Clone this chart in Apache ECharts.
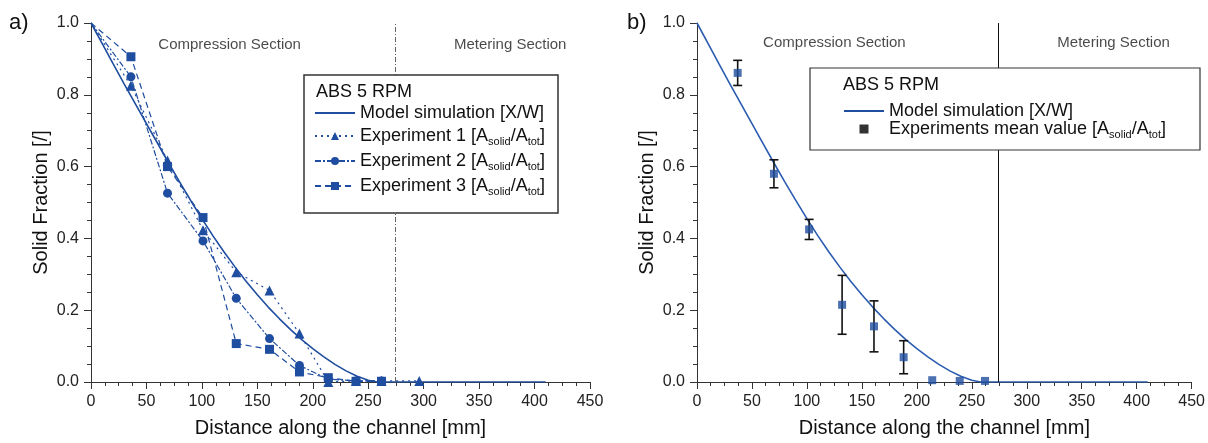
<!DOCTYPE html>
<html>
<head>
<meta charset="utf-8">
<script src="https://cdn.jsdelivr.net/npm/echarts@6/dist/echarts.min.js"></script>
<style>
  html, body { margin: 0; padding: 0; background: #fff; }
  #chart { width: 1208px; height: 443px; }
</style>
</head>
<body>
<div id="chart"></div>
<script>
// Model simulation X/W along the channel (mm -> solid fraction)
const modelX = [0, 10, 20, 30, 40, 50, 60, 70, 80, 90, 100, 110, 120, 130, 140, 150, 160, 170, 180, 190, 200, 210, 220, 230, 240, 250, 258, 300, 350, 410];
const modelY = [1.0, 0.943, 0.886, 0.83, 0.775, 0.72, 0.665, 0.61, 0.557, 0.505, 0.455, 0.407, 0.362, 0.32, 0.28, 0.243, 0.208, 0.176, 0.146, 0.118, 0.093, 0.07, 0.049, 0.031, 0.016, 0.005, 0, 0, 0, 0];

// Panel a: individual experiments, A_solid / A_tot
const exp1X = [0, 36, 69, 101, 131, 161, 188, 214, 239, 262, 296];
const exp1Y = [1.0, 0.825, 0.617, 0.423, 0.306, 0.255, 0.135, 0.0, 0.003, 0.003, 0.003];
const exp2X = [0, 36, 69, 101, 131, 161, 188, 214, 239, 262];
const exp2Y = [1.0, 0.85, 0.526, 0.393, 0.233, 0.121, 0.046, 0.008, 0.003, 0.003];
const exp3X = [0, 36, 69, 101, 131, 161, 188, 214, 239, 262];
const exp3Y = [1.0, 0.906, 0.6, 0.458, 0.107, 0.091, 0.028, 0.012, 0.002, 0.002];

// Panel b: mean of the experiments with standard deviation
const meanX = [37, 70, 102, 132, 161, 188, 214, 239, 262];
const meanY = [0.861, 0.58, 0.425, 0.215, 0.155, 0.069, 0.005, 0.003, 0.003];
const meanSD = [0.035, 0.039, 0.028, 0.082, 0.071, 0.046, 0, 0, 0];

// End of the compression section / start of the metering section
const sectionX = 274;
const sectionNames = ['Compression Section', 'Metering Section'];

const xTicks = { min: 0, max: 450, interval: 50 };
const yTicks = { min: 0, max: 1, interval: 0.2 };

const NAME_MODEL = 'Model simulation [X/W]';
const NAME_E1 = 'Experiment 1';
const NAME_E2 = 'Experiment 2';
const NAME_E3 = 'Experiment 3';
const NAME_MEAN = 'Experiments mean value';

const BLUE = '#1f4d9f';
const FONT = '"Liberation Sans", Arial, sans-serif';

const pairs = (xs, ys) => xs.map((x, i) => [x, ys[i]]);
// the shared inlet point (0, 1) is drawn as the line start only, without a marker
const expData = (xs, ys) => pairs(xs, ys).map((p, i) => i === 0 ? { value: p, symbol: 'none' } : p);

function xAxisFor(gridIndex) {
  return {
    type: 'value', gridIndex,
    min: xTicks.min, max: xTicks.max, interval: xTicks.interval,
    name: 'Distance along the channel [mm]',
    nameLocation: 'middle', nameGap: 36,
    nameTextStyle: { fontFamily: FONT, fontSize: 20, color: '#111' },
    axisLine: { show: true, lineStyle: { color: '#333', width: 1 } },
    axisTick: { show: true, inside: false, length: 7, lineStyle: { color: '#333' } },
    minorTick: { show: true, splitNumber: 4, length: 4, lineStyle: { color: '#333' } },
    axisLabel: { fontFamily: FONT, fontSize: 16, color: '#222', margin: 12, showMaxLabel: true, showMinLabel: true },
    splitLine: { show: false }
  };
}
function yAxisFor(gridIndex) {
  return {
    type: 'value', gridIndex,
    min: yTicks.min, max: yTicks.max, interval: yTicks.interval,
    name: 'Solid Fraction [/]',
    nameLocation: 'middle', nameGap: 40,
    nameTextStyle: { fontFamily: FONT, fontSize: 20, color: '#111' },
    axisLine: { show: true, lineStyle: { color: '#333', width: 1 } },
    axisTick: { show: true, inside: false, length: 7, lineStyle: { color: '#333' } },
    minorTick: { show: true, splitNumber: 4, length: 4, lineStyle: { color: '#333' } },
    axisLabel: { fontFamily: FONT, fontSize: 16, color: '#222', margin: 12, formatter: v => v.toFixed(1) },
    splitLine: { show: false }
  };
}

// Section captions placed in data space
function sectionLabels(xAxisIndex, yAxisIndex, xs, y) {
  return {
    type: 'scatter', xAxisIndex, yAxisIndex, silent: true,
    symbolSize: 0, z: 1,
    data: sectionNames.map((n, i) => [xs[i], y, n]),
    label: {
      show: true, position: 'inside',
      formatter: p => p.value[2],
      fontFamily: FONT, fontSize: 15, color: '#1a1a1a'
    }
  };
}

const richLegend = {
  t: { fontFamily: FONT, fontSize: 18, color: '#111', lineHeight: 22 },
  s: { fontFamily: FONT, fontSize: 11, color: '#111', verticalAlign: 'bottom', padding: [0, 0, 0, 0] }
};
const legendFormatter = name => name === NAME_MODEL
  ? '{t|' + name + '}'
  : '{t|' + name + ' [A}{s|solid}{t|/A}{s|tot}{t|]}';

// model entry: plain line without a marker
const modelLegendItem = { name: NAME_MODEL, itemStyle: { opacity: 0 } };
// mean-value entry: small black square only
const meanLegendItem = { name: NAME_MEAN, icon: 'path://M0,0H10V10H0Z', itemStyle: { color: '#000' } };

const option = {
  animation: false,
  backgroundColor: '#fff',
  grid: [
    { left: 91, top: 23, width: 499, height: 365 },
    { left: 697, top: 23, width: 496, height: 365 }
  ],
  xAxis: [xAxisFor(0), xAxisFor(1)],
  yAxis: [yAxisFor(0), yAxisFor(1)],
  legend: [
    {
      left: 314, top: 104, orient: 'vertical', padding: 0, itemGap: 5, z: 20,
      itemWidth: 40, itemHeight: 10,
      data: [modelLegendItem, NAME_E1, NAME_E2, NAME_E3],
      formatter: legendFormatter,
      textStyle: { rich: richLegend }
    },
    {
      left: 843, top: 102, orient: 'vertical', padding: 0, itemGap: 0, z: 20,
      itemWidth: 40, itemHeight: 9,
      data: [modelLegendItem, meanLegendItem],
      formatter: legendFormatter,
      textStyle: { rich: richLegend }
    }
  ],
  graphic: [
    { type: 'text', left: 9, top: 12, style: { text: 'a)', font: '22px ' + FONT, fill: '#111' } },
    { type: 'text', left: 627, top: 12, style: { text: 'b)', font: '22px ' + FONT, fill: '#111' } },
    { type: 'rect', shape: { x: 304, y: 75, width: 254, height: 138 }, style: { fill: '#fff', stroke: '#333', lineWidth: 1.5 }, z: 10 },
    { type: 'text', x: 316, y: 83, style: { text: 'ABS 5 RPM', font: '18px ' + FONT, fill: '#111' }, z: 11 },
    { type: 'rect', shape: { x: 810, y: 68, width: 390, height: 82 }, style: { fill: '#fff', stroke: '#333', lineWidth: 1.2 }, z: 10 },
    { type: 'text', x: 843, y: 76, style: { text: 'ABS 5 RPM', font: '18px ' + FONT, fill: '#111' }, z: 11 }
  ],
  series: [
    // ---- panel a ----
    {
      name: NAME_MODEL, type: 'line', xAxisIndex: 0, yAxisIndex: 0,
      data: pairs(modelX, modelY), showSymbol: false, symbol: 'none',
      lineStyle: { color: BLUE, width: 1.6 }, itemStyle: { color: BLUE }, z: 3,
      markLine: {
        silent: true, symbol: 'none', label: { show: false },
        lineStyle: { color: '#666', width: 1, type: [5, 2, 1, 2] },
        data: [{ xAxis: sectionX }]
      }
    },
    {
      name: NAME_E1, type: 'line', xAxisIndex: 0, yAxisIndex: 0,
      data: expData(exp1X, exp1Y), symbol: 'triangle', symbolSize: 10,
      lineStyle: { color: BLUE, width: 1.2, type: [2, 4] }, itemStyle: { color: BLUE }, z: 4
    },
    {
      name: NAME_E2, type: 'line', xAxisIndex: 0, yAxisIndex: 0,
      data: expData(exp2X, exp2Y), symbol: 'circle', symbolSize: 9,
      lineStyle: { color: BLUE, width: 1.2, type: [6, 2, 2, 2] }, itemStyle: { color: BLUE }, z: 4
    },
    {
      name: NAME_E3, type: 'line', xAxisIndex: 0, yAxisIndex: 0,
      data: expData(exp3X, exp3Y), symbol: 'rect', symbolSize: 9,
      lineStyle: { color: BLUE, width: 1.2, type: [6, 4] }, itemStyle: { color: BLUE }, z: 4
    },
    sectionLabels(0, 0, [125, 378], 0.94),
    // ---- panel b ----
    {
      name: NAME_MODEL, type: 'line', xAxisIndex: 1, yAxisIndex: 1,
      data: pairs(modelX, modelY), showSymbol: false, symbol: 'none',
      lineStyle: { color: '#2a5cb0', width: 1.6 }, itemStyle: { color: '#2a5cb0' }, z: 3,
      markLine: {
        silent: true, symbol: 'none', label: { show: false },
        lineStyle: { color: '#111', width: 1, type: 'solid' },
        data: [{ xAxis: sectionX }]
      }
    },
    {
      name: 'sd', type: 'custom', xAxisIndex: 1, yAxisIndex: 1, z: 4, silent: true,
      data: meanX.map((x, i) => [x, meanY[i] - meanSD[i], meanY[i] + meanSD[i]]),
      renderItem: (params, api) => {
        const lo = api.coord([api.value(0), api.value(1)]);
        const hi = api.coord([api.value(0), api.value(2)]);
        if (hi[1] >= lo[1] - 0.5) return null;
        const w = 4.5;
        const st = { stroke: '#111', lineWidth: 1.6 };
        return {
          type: 'group', children: [
            { type: 'line', shape: { x1: lo[0], y1: lo[1], x2: hi[0], y2: hi[1] }, style: st },
            { type: 'line', shape: { x1: lo[0] - w, y1: lo[1], x2: lo[0] + w, y2: lo[1] }, style: st },
            { type: 'line', shape: { x1: hi[0] - w, y1: hi[1], x2: hi[0] + w, y2: hi[1] }, style: st }
          ]
        };
      }
    },
    {
      name: NAME_MEAN, type: 'scatter', xAxisIndex: 1, yAxisIndex: 1,
      data: pairs(meanX, meanY), symbol: 'rect', symbolSize: 8,
      itemStyle: { color: BLUE }, z: 5
    },
    sectionLabels(1, 1, [125, 379], 0.945)
  ]
};

const chart = echarts.init(document.getElementById('chart'), null, { renderer: 'canvas' });
chart.setOption(option);
</script>
</body>
</html>
